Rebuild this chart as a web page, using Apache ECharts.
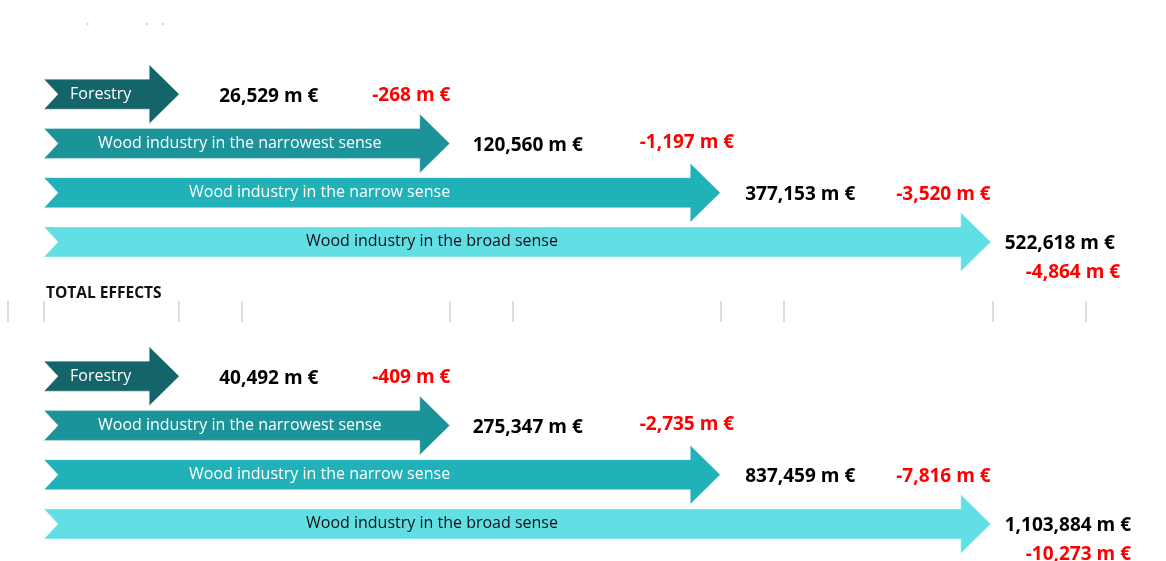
<!DOCTYPE html>
<html>
<head>
<meta charset="utf-8">
<script src="https://cdn.jsdelivr.net/npm/echarts@6/dist/echarts.min.js"></script>
<style>
  html, body { margin: 0; padding: 0; background: #ffffff; }
  #chart { width: 1166px; height: 561px; }
</style>
</head>
<body>
<div id="chart"></div>
<script>
// Sectors of the wood value chain, from narrowest to broadest scope
const sectors = [
  'Forestry',
  'Wood industry in the narrowest sense',
  'Wood industry in the narrow sense',
  'Wood industry in the broad sense'
];

// First block: output value and change (m €)
const valuesTop = [26529, 120560, 377153, 522618];
const changesTop = [-268, -1197, -3520, -4864];

// Second block: total effects (m €)
const valuesTotal = [40492, 275347, 837459, 1103884];
const changesTotal = [-409, -2735, -7816, -10273];

const totalTitle = 'TOTAL EFFECTS';

// Styling and label placement per sector row
const arrowColors = ['#136569', '#1c9399', '#21b2b9', '#62dfe5'];
const innerTextColors = ['#ffffff', '#ffffff', '#ffffff', '#111111'];
const innerTextDx = [26, 54, 145, 262];   // from arrow tail
const valueDx = [40, 23, 25, 14];         // from arrow tip
const valueDy = [2, 2, 2, 2];
const changeDx = [193, 190, 176, 35];     // from arrow tip
const changeDy = [1, -1, 2, 31];

// Decorative separator ticks between the two blocks
const separatorX = [8, 44, 179, 242, 450, 513, 721, 784, 993, 1086];

const FONT = '"Open Sans", "DejaVu Sans", sans-serif';

function fmt(v) {
  const s = Math.abs(v).toLocaleString('en-US');
  return (v < 0 ? '-' : '') + s + ' m €';
}

function buildData(values, changes) {
  return sectors.map((name, i) => [i, values[i], changes[i]]);
}

function renderArrow(params, api) {
  const i = api.value(0);
  const value = api.value(1);
  const change = api.value(2);
  const tip = api.coord([i, i]);
  const band = api.size([1, 1]);
  const tailX = api.coord([0, i])[0] - band[0] / 2;
  const tipX = tip[0];
  const y = tip[1];
  const bodyH = 15, headH = 29.5, headL = 30, notch = 14;
  const pts = [
    [tailX, y - bodyH],
    [tipX - headL, y - bodyH],
    [tipX - headL, y - headH],
    [tipX, y],
    [tipX - headL, y + headH],
    [tipX - headL, y + bodyH],
    [tailX, y + bodyH],
    [tailX + notch, y]
  ];
  return {
    type: 'group',
    children: [
      {
        type: 'polygon',
        shape: { points: pts },
        style: { fill: arrowColors[i], stroke: 'rgba(255,255,255,0.35)', lineWidth: 1 }
      },
      {
        type: 'text',
        style: {
          x: tailX + innerTextDx[i], y: y,
          text: sectors[i],
          fill: innerTextColors[i],
          font: '16px ' + FONT,
          verticalAlign: 'middle', align: 'left'
        }
      },
      {
        type: 'text',
        style: {
          x: tipX + valueDx[i], y: y + valueDy[i],
          text: fmt(value),
          fill: '#000000',
          font: 'bold 19px ' + FONT,
          verticalAlign: 'middle', align: 'left'
        }
      },
      {
        type: 'text',
        style: {
          x: tipX + changeDx[i], y: y + changeDy[i],
          text: fmt(change),
          fill: '#ff0000',
          font: 'bold 19px ' + FONT,
          verticalAlign: 'middle', align: 'left'
        }
      }
    ]
  };
}

const hiddenAxis = { show: false };

const graphics = separatorX.map(x => ({
  type: 'rect',
  shape: { x: x - 1, y: 301, width: 2, height: 21 },
  style: { fill: '#dcdcdc' },
  silent: true
}));
graphics.push({
  type: 'text',
  left: 46, top: 286,
  style: { text: totalTitle, font: 'bold 15.5px ' + FONT, fill: '#111111' }
});
[87, 146, 162].forEach(x => graphics.push({
  type: 'rect',
  shape: { x: x, y: 23, width: 1.5, height: 2 },
  style: { fill: '#c8c8c8' },
  silent: true
}));

const chart = echarts.init(document.getElementById('chart'), null, { renderer: 'canvas' });
chart.setOption({
  animation: false,
  backgroundColor: '#ffffff',
  grid: [
    { left: 44, width: 1082, top: 69.5, height: 197 },
    { left: 44, width: 1082, top: 351.5, height: 197 }
  ],
  xAxis: [
    Object.assign({ type: 'category', data: sectors, gridIndex: 0, boundaryGap: true }, hiddenAxis),
    Object.assign({ type: 'category', data: sectors, gridIndex: 1, boundaryGap: true }, hiddenAxis)
  ],
  yAxis: [
    Object.assign({ type: 'category', data: sectors, gridIndex: 0, inverse: true }, hiddenAxis),
    Object.assign({ type: 'category', data: sectors, gridIndex: 1, inverse: true }, hiddenAxis)
  ],
  series: [
    {
      type: 'custom', name: 'Output', xAxisIndex: 0, yAxisIndex: 0,
      renderItem: renderArrow, data: buildData(valuesTop, changesTop)
    },
    {
      type: 'custom', name: totalTitle, xAxisIndex: 1, yAxisIndex: 1,
      renderItem: renderArrow, data: buildData(valuesTotal, changesTotal)
    }
  ],
  graphic: graphics
});
</script>
</body>
</html>
